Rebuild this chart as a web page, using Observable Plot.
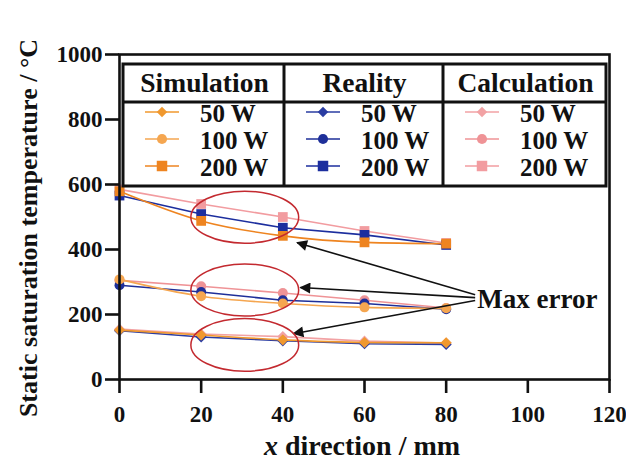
<!DOCTYPE html>
<html>
<head>
<meta charset="utf-8">
<script src="https://cdn.jsdelivr.net/npm/d3@7"></script>
<script src="https://cdn.jsdelivr.net/npm/@observablehq/plot@0.6"></script>
<style>
  html, body { margin: 0; padding: 0; background: #fff; }
  #chart { position: relative; width: 626px; height: 461px; }
</style>
</head>
<body>
<div id="chart"></div>
<script>
// ---- data ----
const xPositions = [0, 20, 40, 60, 80];
const xTicks = [0, 20, 40, 60, 80, 100, 120];
const yTicks = [0, 200, 400, 600, 800, 1000];
const groups = ["Simulation", "Reality", "Calculation"];
const powers = ["50 W", "100 W", "200 W"];

const sim50 = [152, 137, 122, 114, 113];
const sim100 = [308, 256, 234, 222, 219];
const sim200 = [579, 488, 442, 422, 418];
const real50 = [150, 131, 119, 110, 108];
const real100 = [290, 269, 244, 234, 216];
const real200 = [566, 509, 467, 445, 414];
const calc50 = [155, 140, 132, 118, 112];
const calc100 = [305, 287, 266, 244, 220];
const calc200 = [585, 540, 500, 457, 420];

const simColors = ["#F0982E", "#F5A650", "#EE8420"];
const realColors = ["#2A3CA2", "#1E2F99", "#1C2E9E"];
const calcColors = ["#F2A2A4", "#EF9396", "#F29CA0"];
const symbols = ["diamond2", "circle", "square"];

// annotation values
const ellipseX = [30.8, 30.8, 30.8];
const ellipseY = [498, 274, 105];
const ellipseRx = [13.2, 13.2, 13.2];
const ellipseRy = [80, 80, 81];
const arrowFromX = [87.1, 87.1, 87.1];
const arrowFromY = [261, 252, 243];
const arrowToX = [43.5, 44.3, 42.6];
const arrowToY = [421, 283, 141];
const noteText = "Max error";
const noteX = 87.6;
const noteY = 247;

// ---- build table ----
const seriesDefs = [
  {group: "Calculation", vals: [calc50, calc100, calc200], colors: calcColors},
  {group: "Reality", vals: [real50, real100, real200], colors: realColors},
  {group: "Simulation", vals: [sim50, sim100, sim200], colors: simColors}
];
const rows = [];
for (const s of seriesDefs) {
  s.vals.forEach((arr, pi) => {
    arr.forEach((v, i) => rows.push({
      key: s.group + " " + powers[pi], group: s.group, power: powers[pi],
      x: xPositions[i], y: v, color: s.colors[pi], symbol: symbols[pi]
    }));
  });
}
const keys = [...new Set(rows.map(d => d.key))];

const serif = "'Times New Roman', 'Liberation Serif', 'DejaVu Serif', serif";

const marks = [];
for (const k of keys) {
  const data = rows.filter(d => d.key === k);
  const c = data[0].color, sym = data[0].symbol;
  marks.push(Plot.line(data, {x: "x", y: "y", stroke: c, strokeWidth: 1.6,
    curve: data[0].group === "Simulation" ? "monotone-x" : "linear"}));
  marks.push(Plot.dot(data, {x: "x", y: "y", fill: c, stroke: "none",
    symbol: sym, r: sym === "circle" ? 5 : (sym === "square" ? 5.5 : 5)}));
}

const arrows = arrowFromX.map((x1, i) => ({x1, y1: arrowFromY[i], x2: arrowToX[i], y2: arrowToY[i]}));
marks.push(Plot.link(arrows, {x1: "x1", y1: "y1", x2: "x2", y2: "y2", stroke: "#111", strokeWidth: 1.6}));
marks.push(Plot.text([noteText], {x: noteX, y: noteY, text: d => d, textAnchor: "start",
  fontSize: 27, fontWeight: "bold", fill: "#111", fontFamily: serif}));

marks.push(Plot.frame({stroke: "#111", strokeWidth: 2.6}));
marks.push(Plot.axisX({ticks: xTicks, tickSize: 14, tickPadding: 12, strokeWidth: 2.6,
  fontSize: 23, fontWeight: "bold", label: null, tickFormat: d => String(d), fontFamily: serif}));
marks.push(Plot.axisY({ticks: yTicks, tickSize: 14, tickPadding: 3, strokeWidth: 2.6,
  fontSize: 23, fontWeight: "bold", label: null, tickFormat: d => String(d), fontFamily: serif}));

const chart = Plot.plot({
  width: 626, height: 461,
  marginLeft: 119, marginRight: 17, marginTop: 54, marginBottom: 82,
  x: {domain: [0, 120]},
  y: {domain: [0, 1000]},
  style: {fontFamily: serif, color: "#111", background: "#fff", overflow: "visible"},
  marks
});
document.getElementById("chart").appendChild(chart);

// ---- post-render decorations ----
const svg = d3.select(chart);
const sxs = chart.scale("x"), sys = chart.scale("y");
const fx = d3.scaleLinear(sxs.domain, sxs.range);
const fy = d3.scaleLinear(sys.domain, sys.range);

// arrowheads
const defs = svg.append("defs");
defs.append("marker").attr("id", "ah").attr("viewBox", "0 0 10 10")
  .attr("refX", 9).attr("refY", 5).attr("markerWidth", 16).attr("markerHeight", 11)
  .attr("markerUnits", "userSpaceOnUse").attr("orient", "auto")
  .append("path").attr("d", "M0,0L10,5L0,10z").attr("fill", "#111");
svg.selectAll("g[aria-label='link'] path").attr("marker-end", "url(#ah)");

// ellipses
const eg = svg.append("g");
ellipseX.forEach((cx, i) => {
  eg.append("ellipse")
    .attr("cx", fx(cx)).attr("cy", fy(ellipseY[i]))
    .attr("rx", Math.abs(fx(cx + ellipseRx[i]) - fx(cx)))
    .attr("ry", Math.abs(fy(ellipseY[i] + ellipseRy[i]) - fy(ellipseY[i])))
    .attr("fill", "none").attr("stroke", "#C3292F").attr("stroke-width", 1.5);
});

// axis titles
svg.append("text").attr("transform", "translate(37,228) rotate(-90)")
  .attr("text-anchor", "middle").attr("font-family", serif).attr("font-weight", "bold")
  .attr("font-size", 26).attr("fill", "#111").text("Static saturation temperature / °C");
const xt = svg.append("text").attr("x", 362).attr("y", 455).attr("text-anchor", "middle")
  .attr("font-family", serif).attr("font-weight", "bold").attr("font-size", 28).attr("fill", "#111");
xt.append("tspan").attr("font-style", "italic").text("x");
xt.append("tspan").text(" direction / mm");

// legend table
const lg = svg.append("g").attr("font-family", serif).attr("font-weight", "bold");
const L = {x0: 123, x1: 606, y0: 64, y1: 186, hy: 102, cols: [123, 284, 443, 606]};
lg.append("rect").attr("x", L.x0).attr("y", L.y0).attr("width", L.x1 - L.x0).attr("height", L.y1 - L.y0)
  .attr("fill", "#fff").attr("stroke", "#111").attr("stroke-width", 3);
lg.append("line").attr("x1", L.x0).attr("x2", L.x1).attr("y1", L.hy).attr("y2", L.hy)
  .attr("stroke", "#111").attr("stroke-width", 3);
[L.cols[1], L.cols[2]].forEach(cx => lg.append("line").attr("x1", cx).attr("x2", cx)
  .attr("y1", L.y0).attr("y2", L.y1).attr("stroke", "#111").attr("stroke-width", 3));
const colorsByGroup = {Simulation: simColors, Reality: realColors, Calculation: calcColors};
const rowY = [112, 139, 166];
groups.forEach((g, gi) => {
  const c0 = L.cols[gi], c1 = L.cols[gi + 1];
  lg.append("text").attr("x", (c0 + c1) / 2 + 1).attr("y", 92).attr("text-anchor", "middle")
    .attr("font-size", 27.5).attr("fill", "#111").text(g);
  powers.forEach((p, pi) => {
    const col = colorsByGroup[g][pi];
    const lx = c0 + 22, cy = rowY[pi];
    lg.append("line").attr("x1", lx).attr("x2", lx + 34).attr("y1", cy).attr("y2", cy)
      .attr("stroke", col).attr("stroke-width", 1.6);
    const sym = symbols[pi];
    const sz = sym === "circle" ? 80 : (sym === "square" ? 110 : 70);
    const st = sym === "circle" ? d3.symbolCircle : (sym === "square" ? d3.symbolSquare : d3.symbolDiamond2);
    lg.append("path").attr("transform", `translate(${lx + 17},${cy})`)
      .attr("d", d3.symbol(st, sz)()).attr("fill", col);
    lg.append("text").attr("x", c0 + 77).attr("y", cy + 10).attr("text-anchor", "start")
      .attr("font-size", 25).attr("fill", "#111").text(p);
  });
});
</script>
</body>
</html>
